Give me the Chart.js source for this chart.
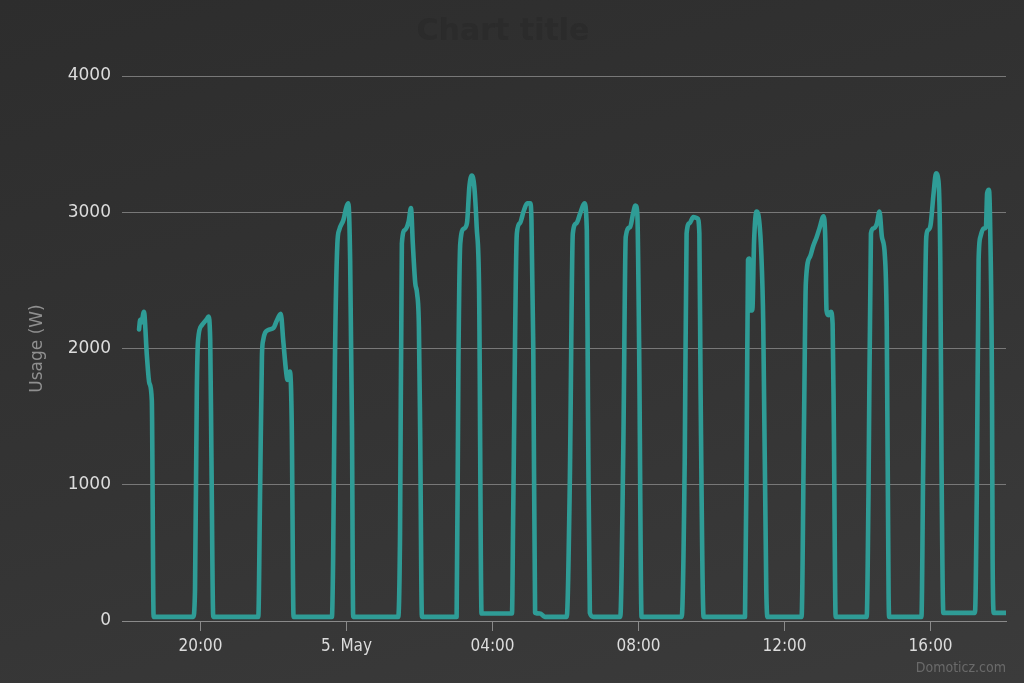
<!DOCTYPE html>
<html><head><meta charset="utf-8">
<script src="https://cdn.jsdelivr.net/npm/chart.js@4.4.1/dist/chart.umd.min.js"></script>
<style>
html,body{margin:0;padding:0;width:1024px;height:683px;overflow:hidden;background:linear-gradient(165deg,#2d2d2d 0%,#343434 55%,#3b3b3b 100%);}
canvas{display:block}
</style></head><body>
<canvas id="c" width="1024" height="683"></canvas>
<script>
// time in minutes relative to 5 May 00:00 (negative = 4 May)
const minutes = [
 -341,-339,-337,-333,-328,-324,-320,-317,-252,
 -249,-246,-244,-238,-229,-227,-224,-222,-219,-145,
 -142,-139,-137,-129,-120,-115,-108,-104,-99,-97,-93,-90,-87,-24,
 -22,-19,-15,-12,-5,0,3,6,9,11,85,
 88,91,96,102,106,109,113,116,119,121,124,181,
 184,187,193,198,202,206,210,214,218,222,272,
 274,280,285,291,297,302,304,307,310,318,326,362,
 367,372,378,384,391,395,397,400,406,450,
 455,459,466,471,475,478,481,485,551,
 556,559,564,570,577,580,582,587,655,
 658,660,662,663,667,670,674,677,682,685,690,692,748,
 752,755,762,767,773,778,784,787,789,792,796,799,801,804,855,
 858,862,866,872,876,880,885,888,891,892,945,
 948,953,956,960,965,969,973,976,978,981,1033,
 1036,1039,1042,1047,1051,1053,1056,1058,1061,1062,1064,1084
];
const watts = [
 2140,2210,2190,2270,1940,1745,1620,30,30,
 228,1695,2060,2170,2220,2235,2060,1206,30,30,
 961,1940,2060,2135,2150,2200,2255,2060,1820,1770,1830,1451,30,30,
 448,1916,2770,2870,2945,3040,3065,2650,1426,30,30,
 636,2770,2870,2930,3030,2770,2480,2405,2160,1420,30,30,
 1916,2770,2880,2920,3190,3270,3190,2890,2405,55,55,
 793,2845,2920,3005,3065,3065,2940,2013,60,55,30,30,
 1000,2845,2920,2990,3065,2870,1530,60,30,30,
 1276,2820,2890,2990,3050,2990,2013,30,30,
 1206,2845,2920,2965,2955,2845,1695,30,30,
 1451,2650,2660,2280,2280,2795,3005,2980,2675,2180,227,30,30,
 1451,2480,2675,2750,2820,2890,2970,2800,2280,2245,2270,2180,1451,30,30,
 939,2845,2880,2920,3005,2820,2675,2160,206,30,30,
 1180,2820,2870,2905,3140,3285,3230,2650,1180,60,60,
 939,2650,2820,2880,2890,3140,3165,2890,1670,450,60,60
];
const tickMinutes = [-240, 0, 240, 480, 720, 960];
const tickLabels = ["20:00", "5. May", "04:00", "08:00", "12:00", "16:00"];
const yTicks = [0, 1000, 2000, 3000, 4000];
const xRange = [-369, 1084];
const seriesName = "Usage";
const yTitle = "Usage (W)";
const chartTitle = "Chart title";
const creditText = "Domoticz.com";

const points = minutes.map((m, i) => ({x: m, y: watts[i]}));

const credits = {
  id: 'credits',
  afterDraw(chart) {
    const ctx = chart.ctx;
    ctx.save();
    ctx.font = "14px 'DejaVu Sans Condensed', 'Liberation Sans Narrow', 'DejaVu Sans', sans-serif";
    ctx.fillStyle = '#6a6a6a';
    ctx.textAlign = 'right';
    ctx.textBaseline = 'middle';
    ctx.fillText(creditText, 1006, 668);
    ctx.restore();
  }
};

new Chart(document.getElementById('c'), {
  type: 'line',
  data: {
    datasets: [{
      label: seriesName,
      data: points,
      borderColor: '#2f9c96',
      borderWidth: 4.6,
      pointRadius: 0,
      cubicInterpolationMode: 'monotone',
      borderJoinStyle: 'round',
      borderCapStyle: 'round',
      fill: false
    }]
  },
  options: {
    responsive: false,
    animation: false,
    devicePixelRatio: 1,
    layout: { padding: { left: 0, right: 18, top: 0, bottom: 22 } },
    plugins: {
      legend: { display: false },
      tooltip: { enabled: false },
      title: {
        display: true,
        text: chartTitle,
        color: '#2b2b2b',
        font: { family: "'DejaVu Sans', sans-serif", size: 30, weight: 'bold' },
        padding: { top: 14, bottom: 26 }
      }
    },
    scales: {
      x: {
        type: 'linear',
        min: xRange[0],
        max: xRange[1],
        afterBuildTicks(scale) { scale.ticks = tickMinutes.map(v => ({value: v})); },
        afterFit(scale) { scale.height = 40; },
        ticks: {
          autoSkip: false,
          maxRotation: 0,
          padding: 5,
          color: '#dcdcdc',
          font: { family: "'DejaVu Sans Condensed', 'Liberation Sans Narrow', 'DejaVu Sans', sans-serif", size: 17 },
          callback(value) { const i = tickMinutes.indexOf(value); return i >= 0 ? tickLabels[i] : ''; }
        },
        grid: { drawOnChartArea: false, drawTicks: true, tickLength: 10, color: '#8a8a8a', lineWidth: 1 },
        border: { display: true, color: '#8a8a8a', width: 1 }
      },
      y: {
        min: 0,
        max: 4000,
        afterBuildTicks(scale) { scale.ticks = yTicks.map(v => ({value: v})); },
        afterFit(scale) { scale.width = 122; },
        ticks: {
          padding: 11,
          color: '#dcdcdc',
          font: { family: "'DejaVu Sans', sans-serif", size: 17 },
          callback(value) { return String(value); }
        },
        grid: { color: '#787878', lineWidth: 1, drawTicks: false },
        border: { display: false },
        title: {
          display: true,
          text: yTitle,
          color: '#8f8f8f',
          font: { family: "'DejaVu Sans', sans-serif", size: 17 },
          padding: { top: 27, bottom: 0 }
        }
      }
    }
  },
  plugins: [credits]
});
</script>
</body></html>
